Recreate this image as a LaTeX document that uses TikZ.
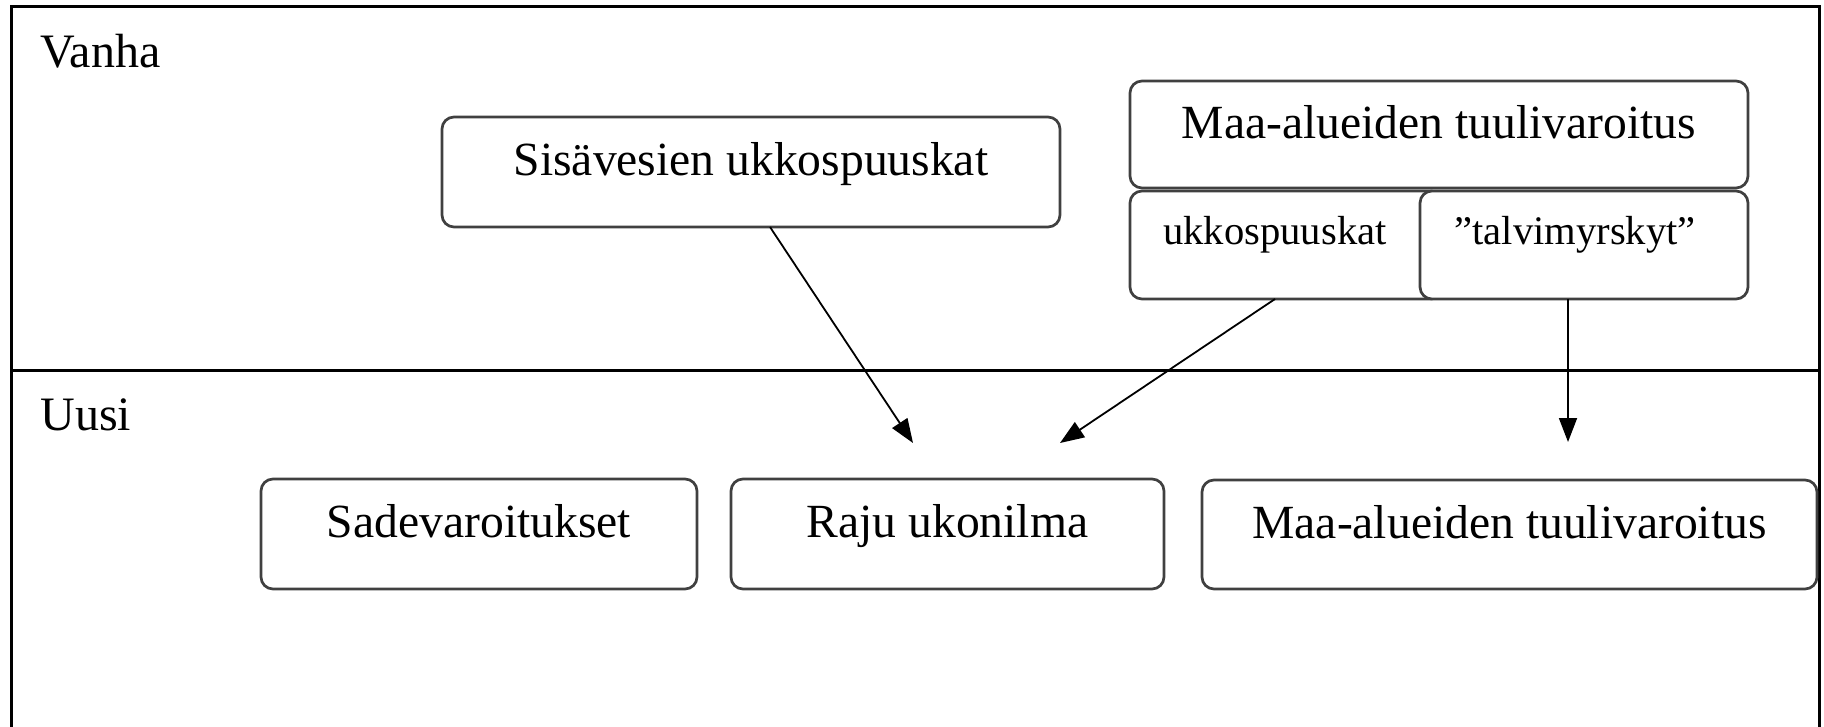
\documentclass[tikz,border=0pt]{standalone}
\usepackage{fontspec}
\setmainfont{Liberation Serif}
\usetikzlibrary{arrows.meta}
\begin{document}
\begin{tikzpicture}[x=0.5pt,y=-0.5pt,
  frameline/.style={line width=1.5pt,black},
  wbox/.style={draw=black!75,line width=1.35pt,rounded corners=6pt,fill=white,
    inner sep=0pt,outer sep=0pt,font=\fontsize{23.8}{28}\selectfont,
    text height=0.66em,text depth=0.28em},
  sbox/.style={wbox,font=\fontsize{20.3}{24}\selectfont,
    text height=0.5em,text depth=0.55em},
  lbl/.style={anchor=base west,inner sep=0pt,font=\fontsize{24}{28}\selectfont},
  conn/.style={line width=0.9pt,-{Triangle[length=12pt,width=9pt]}}]
\useasboundingbox (0,0) rectangle (1824,727);
\draw[frameline] (11,740) -- (11,7) -- (1819,7) -- (1819,740);
\draw[frameline] (11,370) -- (1819,370);
\node[lbl] (vanha) at (40,68) {Vanha};
\node[lbl] (uusi) at (40,430) {Uusi};
\node[wbox,minimum width=309pt,minimum height=55pt] (sis) at (751,172) {Sisävesien ukkospuuskat};
\node[wbox,minimum width=309pt,minimum height=53.5pt] (maatop) at (1439,134.5) {Maa-alueiden tuulivaroitus};
\node[sbox,minimum width=156.5pt,minimum height=54pt] (ukko) at (1286.5,245) {ukkospuuskat\hspace*{11.5pt}};
\node[sbox,minimum width=164pt,minimum height=54pt] (talvi) at (1584,245) {”talvimyrskyt”\hspace*{9pt}};
\node[wbox,minimum width=218pt,minimum height=55pt] (sade) at (479,534) {Sadevaroitukset};
\node[wbox,minimum width=216.5pt,minimum height=55pt] (raju) at (947.5,534) {Raju ukonilma};
\node[wbox,minimum width=307.5pt,minimum height=54.5pt] (maabot) at (1509.5,534.5) {Maa-alueiden tuulivaroitus};
\coordinate (t1) at (913,443);
\coordinate (t2) at (1060,443);
\coordinate (t3) at (1568,442);
\draw[conn] ([xshift=9.5pt]sis.south) -- (t1);
\draw[conn] ([xshift=-5.75pt]ukko.south) -- (t2);
\draw[conn] ([xshift=-8pt]talvi.south) -- (t3);
\end{tikzpicture}
\end{document}
